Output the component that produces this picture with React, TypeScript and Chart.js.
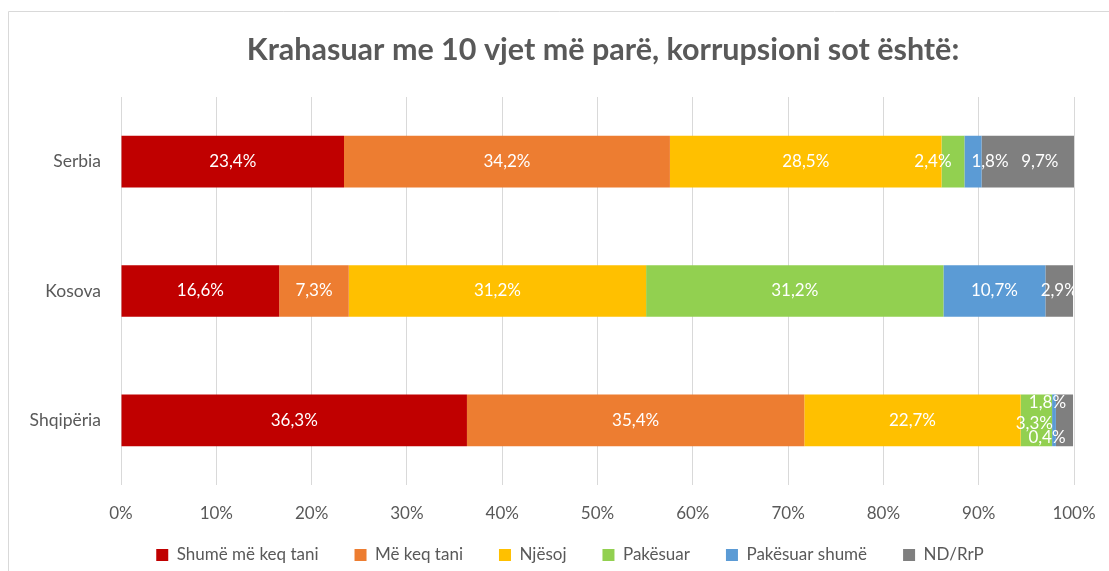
import React, { useEffect, useRef } from "react";
import { Chart, registerables } from "chart.js";

Chart.register(...registerables);

const TITLE = "Krahasuar me 10 vjet më parë, korrupsioni sot është:";
const categories = ["Serbia", "Kosova", "Shqipëria"];
const seriesNames = ["Shumë më keq tani", "Më keq tani", "Njësoj", "Pakësuar", "Pakësuar shumë", "ND/RrP"];
const shumeMeKeq = [23.4, 16.6, 36.3];
const meKeq = [34.2, 7.3, 35.4];
const njesoj = [28.5, 31.2, 22.7];
const pakesuar = [2.4, 31.2, 3.3];
const pakesuarShume = [1.8, 10.7, 0.4];
const ndRrp = [9.7, 2.9, 1.8];
const xTicks = [0, 10, 20, 30, 40, 50, 60, 70, 80, 90, 100];

const colors = ["#C00000", "#ED7D31", "#FFC000", "#92D050", "#5B9BD5", "#7F7F7F"];
const FONT = "Lato, 'Open Sans', sans-serif";

// label nudges for crowded small segments: key "dataset-index" -> [dx, dy]
const labelNudges: Record<string, [number, number]> = {
  "3-0": [-20, 0],
  "4-0": [17, 0],
  "5-0": [12, 0],
  "3-2": [-2, 3],
  "4-2": [-7, 17],
  "5-2": [-17, -18],
};

const fmt = (v: number) => v.toFixed(1).replace(".", ",") + "%";

const decorPlugin = {
  id: "decor",
  afterLayout(chart: any) {
    const lg = chart.legend;
    if (lg) {
      lg.top -= 10.5;
      lg.bottom -= 10.5;
      lg.left += 33;
      lg.right += 33;
    }
  },
  beforeDraw(chart: any) {
    const { ctx } = chart;
    ctx.save();
    ctx.strokeStyle = "#d9d9d9";
    ctx.lineWidth = 1;
    ctx.beginPath();
    ctx.moveTo(8.5, 1000);
    ctx.lineTo(8.5, 11.5);
    ctx.lineTo(2000, 11.5);
    ctx.stroke();
    ctx.fillStyle = "#595959";
    ctx.font = `bold 30.5px ${FONT}`;
    ctx.textAlign = "center";
    ctx.textBaseline = "middle";
    ctx.fillText(TITLE, 603, 50);
    ctx.restore();
  },
  afterDatasetsDraw(chart: any) {
    const { ctx, chartArea } = chart;
    ctx.save();
    ctx.beginPath();
    ctx.rect(chartArea.left, chartArea.top, chartArea.right - chartArea.left, chartArea.bottom - chartArea.top);
    ctx.clip();
    ctx.fillStyle = "#ffffff";
    ctx.font = `17px ${FONT}`;
    ctx.textAlign = "center";
    ctx.textBaseline = "middle";
    chart.data.datasets.forEach((ds: any, di: number) => {
      const meta = chart.getDatasetMeta(di);
      meta.data.forEach((bar: any, i: number) => {
        const v = ds.data[i];
        const cx = (bar.x + bar.base) / 2;
        const nudge = labelNudges[`${di}-${i}`] || [0, 0];
        ctx.fillText(fmt(v), cx + nudge[0], bar.y + nudge[1]);
      });
    });
    ctx.restore();
  },
};

export default function App() {
  const ref = useRef<HTMLCanvasElement | null>(null);
  useEffect(() => {
    if (!ref.current) return;
    const series = [shumeMeKeq, meKeq, njesoj, pakesuar, pakesuarShume, ndRrp];
    const chart = new Chart(ref.current, {
      type: "bar",
      data: {
        labels: categories,
        datasets: series.map((d, i) => ({
          label: seriesNames[i],
          data: d,
          backgroundColor: colors[i],
          borderWidth: 0,
          barPercentage: 0.4,
          categoryPercentage: 1,
        })),
      },
      options: {
        indexAxis: "y",
        animation: false,
        responsive: false,
        layout: { padding: { left: 0, top: 97, right: 35, bottom: -13 } },
        plugins: {
          title: { display: false },
          tooltip: { enabled: false },
          legend: {
            position: "bottom",
            labels: {
              boxWidth: 12,
              boxHeight: 12,
              padding: 36,
              color: "#595959",
              font: { family: FONT, size: 17 },
            },
          },
        },
        scales: {
          x: {
            stacked: true,
            min: 0,
            max: 100,
            afterFit(scale: any) {
              scale.height = 36;
              scale.paddingLeft = 0;
              scale.paddingRight = 0;
            },
            afterBuildTicks(scale: any) {
              scale.ticks = xTicks.map((v) => ({ value: v }));
            },
            ticks: {
              callback: (v: any) => v + "%",
              color: "#595959",
              font: { family: FONT, size: 17 },
              padding: 18,
              maxRotation: 0,
            },
            grid: { color: "#d9d9d9", drawTicks: false },
            border: { display: false },
          },
          y: {
            stacked: true,
            afterFit(scale: any) {
              scale.width = 121;
            },
            ticks: {
              color: "#595959",
              font: { family: FONT, size: 17.5 },
              padding: 20,
            },
            grid: { display: false, drawTicks: false },
            border: { display: false },
          },
        },
      },
      plugins: [decorPlugin],
    });
    return () => chart.destroy();
  }, []);
  return (
    <div style={{ position: "fixed", left: 0, top: 0, width: 1109, height: 571, background: "#fff" }}>
      <canvas ref={ref} width={1109} height={571} />
    </div>
  );
}
